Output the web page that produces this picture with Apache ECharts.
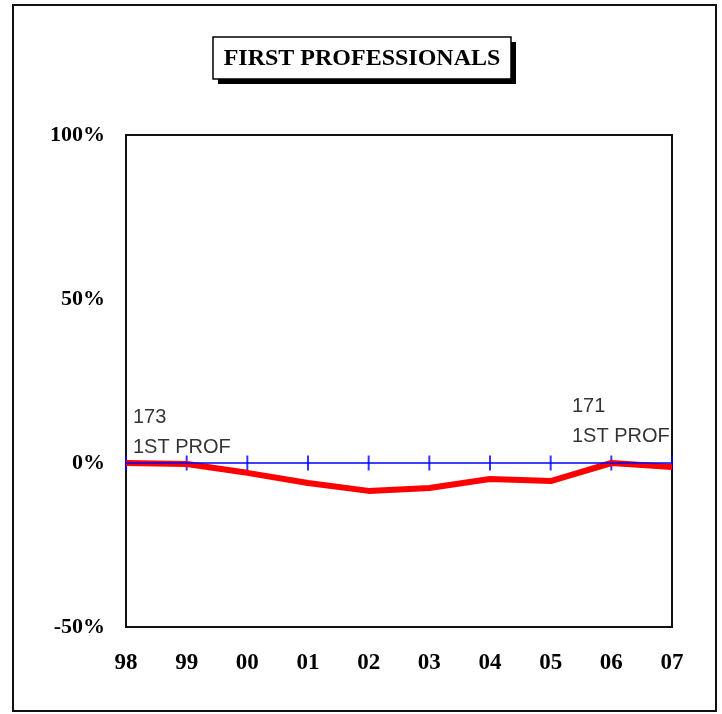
<!DOCTYPE html>
<html>
<head>
<meta charset="utf-8">
<script src="https://cdn.jsdelivr.net/npm/echarts@6/dist/echarts.min.js"></script>
<style>
  html, body { margin: 0; padding: 0; background: #fff; }
  #chart { width: 722px; height: 714px; }
</style>
</head>
<body>
<div id="chart"></div>
<script>
// years on the x axis
const years = ['98', '99', '00', '01', '02', '03', '04', '05', '06', '07'];
// % change from 1998
const pctChange = [0, -0.3, -3.0, -6.1, -8.5, -7.6, -4.9, -5.5, 0, -1.2];
// head counts shown at the ends
const endCounts = [173, 171];
const yTicks = { min: -50, max: 100, interval: 50 };

const serif = '"Liberation Serif", "Times New Roman", serif';
const sans = '"Liberation Sans", Arial, sans-serif';

const chart = echarts.init(document.getElementById('chart'));

const option = {
    animation: false,
    backgroundColor: '#fff',
    grid: {
        left: 126, top: 135, width: 546, height: 492,
        show: true, borderColor: '#111', borderWidth: 2,
        backgroundColor: 'transparent'
    },
    xAxis: {
        type: 'category',
        data: years,
        boundaryGap: false,
        axisLine: { show: false },
        axisTick: { show: false },
        splitLine: { show: false },
        axisLabel: {
            margin: 25,
            color: '#000',
            fontFamily: serif,
            fontWeight: 'bold',
            fontSize: 23
        }
    },
    yAxis: {
        type: 'value',
        min: yTicks.min,
        max: yTicks.max,
        interval: yTicks.interval,
        axisLine: { show: false },
        axisTick: { show: false },
        splitLine: { show: false },
        axisLabel: {
            margin: 21,
            color: '#000',
            fontFamily: serif,
            fontWeight: 'bold',
            fontSize: 22,
            formatter: '{value}%'
        }
    },
    graphic: [
        // outer frame
        { type: 'rect', shape: { x: 13, y: 5, width: 703, height: 706 },
          style: { fill: 'none', stroke: '#111', lineWidth: 2 }, z: 1 },
        // title box shadow + box
        { type: 'rect', shape: { x: 218, y: 42, width: 298, height: 42 },
          style: { fill: '#000' }, z: 10 },
        { type: 'rect', shape: { x: 213, y: 37, width: 298, height: 42 },
          style: { fill: '#fff', stroke: '#000', lineWidth: 1.5 }, z: 11 },
        { type: 'text', x: 362, y: 59, z: 12,
          style: { text: 'FIRST PROFESSIONALS', fill: '#000', font: 'bold 24px ' + serif,
                   textAlign: 'center', textVerticalAlign: 'middle' } }
    ],
    series: [
        {
            // blue zero line with tick marks
            type: 'scatter',
            z: 1,
            symbol: 'rect',
            symbolSize: [2, 15],
            itemStyle: { color: '#0000ff' },
            data: years.map(y => [y, 0]),
            silent: true,
            markLine: {
                silent: true,
                symbol: 'none',
                label: { show: false },
                lineStyle: { color: '#0000ff', width: 1.5, type: 'solid' },
                data: [{ yAxis: 0 }]
            }
        },
        {
            type: 'line',
            z: 3,
            data: pctChange,
            showSymbol: false,
            lineStyle: { color: '#ff0000', width: 6 },
            itemStyle: { color: '#ff0000' }
        },
        {
            // end labels
            type: 'scatter',
            z: 4,
            symbolSize: 0,
            silent: true,
            data: [
                { value: [years[0], pctChange[0]], count: endCounts[0],
                  label: { offset: [7, -1] } },
                { value: [years[years.length - 1], pctChange[pctChange.length - 1]], count: endCounts[1],
                  label: { offset: [-100, -15] } }
            ],
            label: {
                show: true,
                position: [0, 0],
                align: 'left',
                verticalAlign: 'bottom',
                color: '#000',
                fontFamily: sans,
                fontSize: 20,
                lineHeight: 30,
                textBorderWidth: 0,
                formatter: p => p.data.count + '\n1ST PROF'
            }
        }
    ]
};

chart.setOption(option);
</script>
</body>
</html>
